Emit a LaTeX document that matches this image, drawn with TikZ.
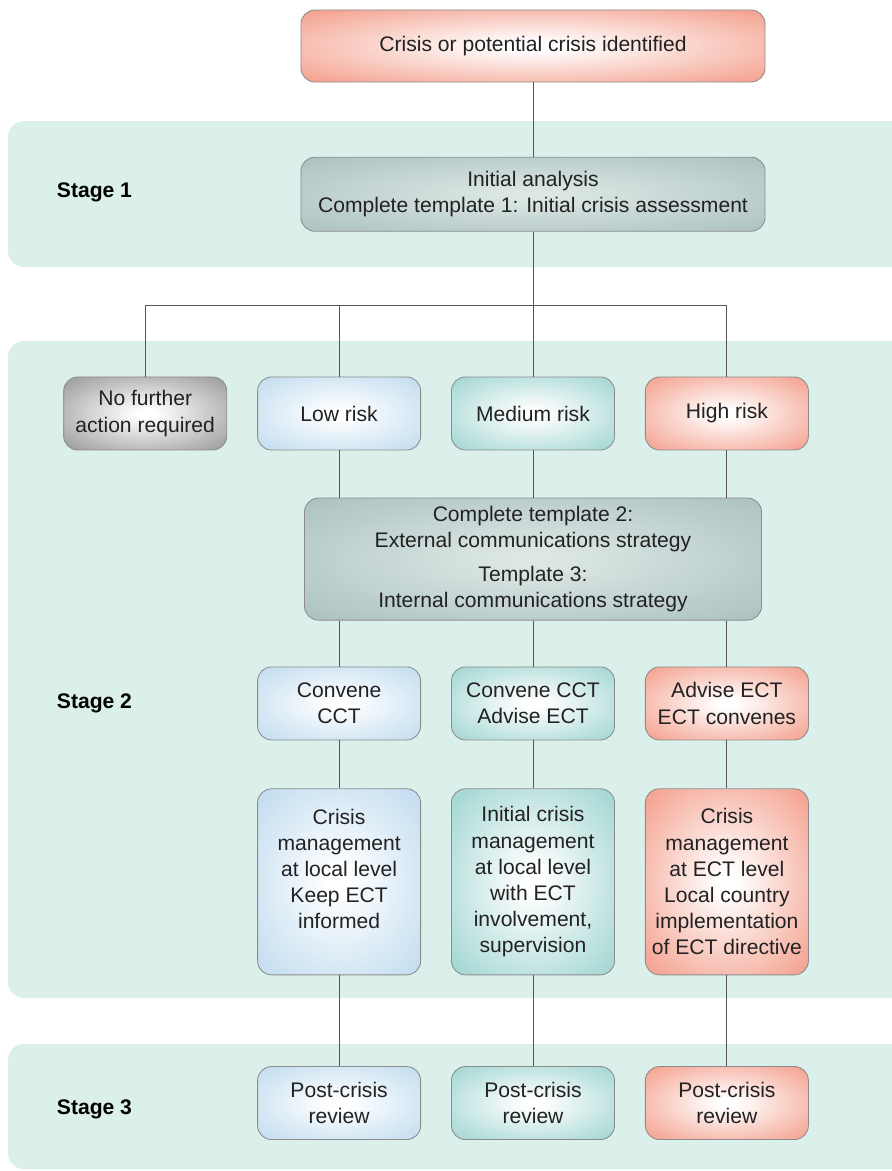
\documentclass[tikz,border=0pt]{standalone}
\usepackage{fontspec}
\setmainfont{Liberation Sans}
\usetikzlibrary{positioning}
\definecolor{cmband}{HTML}{DCF0EB}
\definecolor{cmsalmon}{HTML}{F4A593}
\definecolor{cmblue}{HTML}{C5DEF0}
\definecolor{cmteal}{HTML}{A6D8D4}
\definecolor{cmgray}{HTML}{A0A0A0}
\definecolor{cmsage}{HTML}{AFC4C2}
\definecolor{cmsagein}{HTML}{DCE7E5}
\definecolor{cmedge}{HTML}{8C8C8C}
\definecolor{cmline}{HTML}{555555}
\definecolor{cmtext}{HTML}{222222}
\pgfdeclareradialshading{salmonglow}{\pgfpoint{0bp}{0bp}}{color(0bp)=(white); color(3bp)=(white); color(33bp)=(cmsalmon); color(50bp)=(cmsalmon)}
\pgfdeclareradialshading{blueglow}{\pgfpoint{0bp}{0bp}}{color(0bp)=(white); color(3bp)=(white); color(33bp)=(cmblue); color(50bp)=(cmblue)}
\pgfdeclareradialshading{tealglow}{\pgfpoint{0bp}{0bp}}{color(0bp)=(white); color(3bp)=(white); color(33bp)=(cmteal); color(50bp)=(cmteal)}
\pgfdeclareradialshading{grayglow}{\pgfpoint{0bp}{0bp}}{color(0bp)=(white); color(3bp)=(white); color(33bp)=(cmgray); color(50bp)=(cmgray)}
\pgfdeclareradialshading{sageglow}{\pgfpoint{0bp}{0bp}}{color(0bp)=(cmsagein); color(3bp)=(cmsagein); color(33bp)=(cmsage); color(50bp)=(cmsage)}
\tikzset{
	cbox/.style={draw=cmedge, line width=0.6pt, rounded corners=0.35cm,
		align=center, font=\fontsize{15}{18.6}\selectfont, text=cmtext, inner sep=2pt,
		minimum width=4.075cm, minimum height=1.825cm, shade},
	salmonbox/.style={cbox, shading=salmonglow},
	bluebox/.style={cbox, shading=blueglow},
	tealbox/.style={cbox, shading=tealglow},
	graybox/.style={cbox, shading=grayglow},
	sagebox/.style={cbox, shading=sageglow},
	cline/.style={draw=cmline, line width=0.7pt},
	stageband/.style={fill=cmband, rounded corners=0.4cm},
	stagelbl/.style={anchor=west, font=\fontsize{15}{18}\selectfont\bfseries, text=black}
}
\begin{document}
\begin{tikzpicture}[x=0.025cm, y=-0.025cm, node distance=1.15cm and 0.75cm]
	\useasboundingbox (0,0) rectangle (892,1171);
	\clip (0,0) rectangle (892,1171);
	\fill[stageband] (8,121) rectangle (920,267);
	\fill[stageband] (8,341) rectangle (920,998);
	\fill[stageband] (8,1044) rectangle (920,1169);
	\node[stagelbl] (st1) at (52,192) {Stage 1};
	\node[stagelbl] (st2) at (52,703) {Stage 2};
	\node[stagelbl] (st3) at (52,1109) {Stage 3};
	\node[salmonbox, minimum width=11.6cm, minimum height=1.8cm] (crisis) at (533,46) {Crisis or potential crisis identified};
	\node[sagebox, minimum width=11.6cm, minimum height=1.85cm, below=1.86cm of crisis] (init) {Initial analysis\\Complete template 1: Initial crisis assessment};
	\node[tealbox, below=3.62cm of init] (med) {Medium risk};
	\node[bluebox, left=of med] (low) {Low risk};
	\node[salmonbox, right=of med] (high) {High risk};
	\node[graybox, left=of low] (nofa) {No further\\action required};
	\node[sagebox, minimum width=11.425cm, minimum height=3.05cm, below=1.18cm of med] (tmpl) {Complete template 2:\\External communications strategy\\[6pt]Template 3:\\Internal communications strategy};
	\node[tealbox, below=of tmpl] (convmed) {Convene CCT\\Advise ECT};
	\node[bluebox, left=of convmed] (convlow) {Convene\\CCT};
	\node[salmonbox, right=of convmed] (convhigh) {Advise ECT\\ECT convenes};
	\node[tealbox, minimum height=4.65cm, below=1.2cm of convmed] (mgmtmed) {Initial crisis\\management\\at local level\\with ECT\\involvement,\\supervision};
	\node[bluebox, minimum height=4.65cm, left=of mgmtmed] (mgmtlow) {Crisis\\management\\at local level\\Keep ECT\\informed\\\mbox{}};
	\node[salmonbox, minimum height=4.65cm, right=of mgmtmed] (mgmthigh) {Crisis\\management\\at ECT level\\Local country\\implementation\\of ECT directive};
	\node[tealbox, below=2.27cm of mgmtmed] (revmed) {Post-crisis\\review};
	\node[bluebox, left=of revmed] (revlow) {Post-crisis\\review};
	\node[salmonbox, right=of revmed] (revhigh) {Post-crisis\\review};
	\draw[cline] (crisis) -- (init);
	\draw[cline] (init.south) -- ++(0,74) coordinate (split);
	\draw[cline] (split) -| (nofa);
	\draw[cline] (split) -| (low);
	\draw[cline] (split) -- (med);
	\draw[cline] (split) -| (high);
	\draw[cline] (low) -- (low |- tmpl.north);
	\draw[cline] (med) -- (tmpl);
	\draw[cline] (high) -- (high |- tmpl.north);
	\draw[cline] (convlow |- tmpl.south) -- (convlow);
	\draw[cline] (tmpl) -- (convmed);
	\draw[cline] (convhigh |- tmpl.south) -- (convhigh);
	\draw[cline] (convlow) -- (mgmtlow);
	\draw[cline] (convmed) -- (mgmtmed);
	\draw[cline] (convhigh) -- (mgmthigh);
	\draw[cline] (mgmtlow) -- (revlow);
	\draw[cline] (mgmtmed) -- (revmed);
	\draw[cline] (mgmthigh) -- (revhigh);
\end{tikzpicture}
\end{document}
